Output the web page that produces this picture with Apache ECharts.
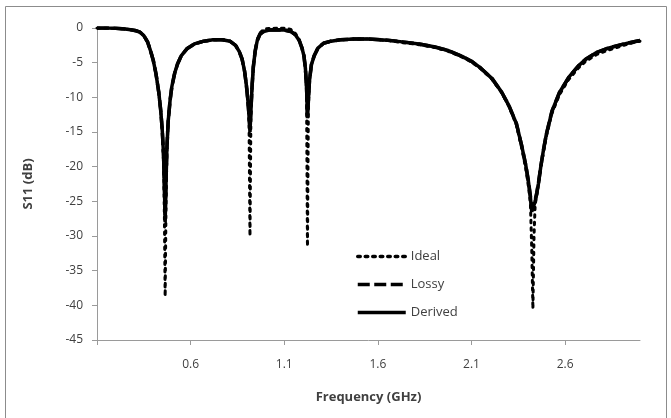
<!DOCTYPE html>
<html>
<head>
<meta charset="utf-8">
<script src="https://cdn.jsdelivr.net/npm/echarts@6/dist/echarts.min.js"></script>
<style>
html,body{margin:0;padding:0;background:#fff;}
#chart{width:671px;height:418px;}
</style>
</head>
<body>
<div id="chart"></div>
<script>
// Frequency samples (GHz)
var freq = [0.10, 0.15, 0.20, 0.25, 0.28, 0.31, 0.33, 0.35, 0.37, 0.385, 0.40, 0.415, 0.43, 0.44, 0.448, 0.455, 0.46, 0.464, 0.468, 0.473, 0.48, 0.49, 0.50, 0.515, 0.53, 0.55, 0.58, 0.62, 0.67, 0.72, 0.77, 0.81, 0.84, 0.86, 0.875, 0.888, 0.898, 0.906, 0.912, 0.917, 0.922, 0.928, 0.935, 0.945, 0.956, 0.97, 0.99, 1.02, 1.06, 1.10, 1.135, 1.16, 1.18, 1.195, 1.205, 1.213, 1.219, 1.224, 1.229, 1.235, 1.245, 1.26, 1.28, 1.31, 1.35, 1.40, 1.47, 1.55, 1.65, 1.73, 1.82, 1.90, 1.97, 2.05, 2.10, 2.15, 2.21, 2.26, 2.30, 2.34, 2.37, 2.39, 2.405, 2.415, 2.422, 2.428, 2.434, 2.44, 2.448, 2.458, 2.47, 2.485, 2.50, 2.53, 2.57, 2.62, 2.67, 2.71, 2.77, 2.83, 2.90, 2.95, 3.00];

// S11 (dB) - Derived
var derived = [0, 0, -0.05, -0.15, -0.25, -0.4, -0.6, -1.1, -2.0, -3.2, -4.6, -6.6, -9.3, -11.8, -14.5, -18, -23, -28, -23, -17.5, -13.5, -10.5, -8.4, -6.5, -5.2, -4.0, -3.0, -2.3, -1.9, -1.7, -1.7, -1.9, -2.5, -3.4, -4.5, -6.2, -8.3, -10.5, -12.8, -15, -12, -8.5, -5.6, -3.3, -1.8, -0.9, -0.5, -0.3, -0.25, -0.3, -0.5, -1.0, -1.8, -2.9, -4.0, -5.8, -8.5, -13, -10.5, -7.5, -5.3, -4.0, -2.9, -2.2, -1.9, -1.7, -1.6, -1.6, -1.75, -2.0, -2.3, -2.7, -3.2, -4.1, -4.8, -5.8, -7.3, -9.2, -11.2, -13.8, -17.2, -19.8, -22.3, -24.5, -26.5, -26, -25.5, -25, -24, -22.4, -20, -17.5, -15.3, -12, -9.3, -7.1, -5.5, -4.5, -3.5, -2.9, -2.4, -2.1, -1.8];

// S11 (dB) - Lossy
var lossy = [0, 0, -0.05, -0.15, -0.25, -0.4, -0.6, -1.1, -2.0, -3.2, -4.6, -6.6, -9.3, -11.8, -14.5, -18, -22.5, -27, -22.5, -17.5, -13.5, -10.5, -8.4, -6.5, -5.2, -4.0, -3.0, -2.3, -1.9, -1.7, -1.7, -1.9, -2.5, -3.4, -4.5, -6.2, -8.3, -10.5, -12.6, -14.5, -11.8, -8.5, -5.6, -3.3, -1.8, -0.9, -0.5, -0.3, -0.25, -0.3, -0.5, -1.0, -1.8, -2.9, -4.0, -5.8, -8.4, -12.5, -10.3, -7.5, -5.3, -4.0, -2.9, -2.2, -1.9, -1.7, -1.6, -1.6, -1.75, -2.0, -2.3, -2.7, -3.2, -4.1, -4.8, -5.8, -7.3, -9.2, -11.2, -13.8, -17.2, -19.8, -22.2, -24.3, -26, -25.8, -25.3, -24.8, -23.8, -22.3, -20, -17.5, -15.3, -12, -9.3, -7.1, -5.5, -4.5, -3.5, -2.9, -2.4, -2.1, -1.8];

// S11 (dB) - Ideal
var ideal = [0, 0, -0.05, -0.15, -0.25, -0.4, -0.6, -1.1, -2.0, -3.2, -4.6, -6.6, -9.3, -11.8, -14.5, -19, -27, -38.7, -27, -18, -13.5, -10.5, -8.4, -6.5, -5.2, -4.0, -3.0, -2.3, -1.9, -1.7, -1.7, -1.9, -2.5, -3.4, -4.5, -6.2, -8.3, -10.5, -13.5, -30, -12.5, -8.5, -5.6, -3.3, -1.7, -0.7, -0.2, -0.05, 0, 0, -0.2, -0.8, -1.7, -2.9, -4.0, -5.8, -9, -31.5, -11, -7.5, -5.3, -4.0, -2.9, -2.2, -1.9, -1.7, -1.6, -1.6, -1.8, -2.1, -2.4, -2.8, -3.3, -4.2, -4.9, -5.9, -7.4, -9.3, -11.3, -14, -17.5, -20.3, -23, -25.5, -32, -40.5, -30, -25.5, -24.2, -22.5, -20.2, -17.8, -15.6, -12.3, -9.6, -7.4, -5.8, -4.8, -3.8, -3.2, -2.6, -2.2, -1.9];

var xTicks = [0.1, 0.6, 1.1, 1.6, 2.1, 2.6];
var xLabels = [0.6, 1.1, 1.6, 2.1, 2.6];
var yMin = -45, yMax = 0, yStep = 5;

function pairs(vals){ return freq.map(function(f,i){ return [f, vals[i]]; }); }

var FONT = 'Open Sans';
var TXT = '#404040';
var AX = '#9a9a9a';

var chart = echarts.init(document.getElementById('chart'), null, {renderer:'canvas'});
chart.setOption({
  backgroundColor: '#fff',
  animation: false,
  graphic: [{
    type: 'rect', silent: true, z: -10,
    shape: {x: 5.5, y: 6.5, width: 661, height: 430},
    style: {fill: 'none', stroke: '#8c8c8c', lineWidth: 1}
  }],
  grid: {left: 97, right: 31, top: 28, bottom: 78, containLabel: false},
  legend: {
    orient: 'vertical', left: 351, top: 245,
    itemWidth: 48, itemHeight: 14, itemGap: 15,
    itemStyle: {opacity: 0, borderWidth: 0},
    lineStyle: {width: 3.5},
    textStyle: {fontFamily: FONT, fontSize: 13, color: TXT},
    data: ['Ideal', 'Lossy', 'Derived']
  },
  xAxis: {
    type: 'value', min: 0.1, max: 3.0,
    name: 'Frequency (GHz)', nameLocation: 'middle', nameGap: 51,
    nameTextStyle: {fontFamily: FONT, fontSize: 13, fontWeight: 'bold', color: TXT},
    axisLine: {onZero: false, lineStyle: {color: AX, width: 1}},
    axisTick: {show: true, length: 5, inside: false, customValues: xTicks, lineStyle: {color: AX}},
    axisLabel: {customValues: xLabels, margin: 19, fontFamily: FONT, fontSize: 12, color: TXT,
      formatter: function(v){ return Number(v).toFixed(1); }},
    splitLine: {show: false}
  },
  yAxis: {
    type: 'value', min: yMin, max: yMax, interval: yStep,
    name: 'S11 (dB)', nameLocation: 'middle', nameGap: 62, nameRotate: 90,
    nameTextStyle: {fontFamily: FONT, fontSize: 13, fontWeight: 'bold', color: TXT},
    axisLine: {show: true, lineStyle: {color: AX, width: 1}},
    axisTick: {show: true, length: 5, inside: false, lineStyle: {color: AX}},
    axisLabel: {margin: 14, fontFamily: FONT, fontSize: 12, color: TXT},
    splitLine: {show: false}
  },
  series: [
    {name: 'Ideal', type: 'line', data: pairs(ideal), showSymbol: false, symbol: 'none',
     lineStyle: {color: '#000', width: 3, type: [2.5, 5], cap: 'round'}, itemStyle: {color: '#000'}, z: 1},
    {name: 'Lossy', type: 'line', data: pairs(lossy), showSymbol: false, symbol: 'none',
     lineStyle: {color: '#000', width: 3.5, type: [12, 4.5]}, itemStyle: {color: '#000'}, z: 2},
    {name: 'Derived', type: 'line', data: pairs(derived), showSymbol: false, symbol: 'none',
     lineStyle: {color: '#000', width: 3.5, type: 'solid'}, itemStyle: {color: '#000'}, z: 3}
  ]
});
</script>
</body>
</html>
